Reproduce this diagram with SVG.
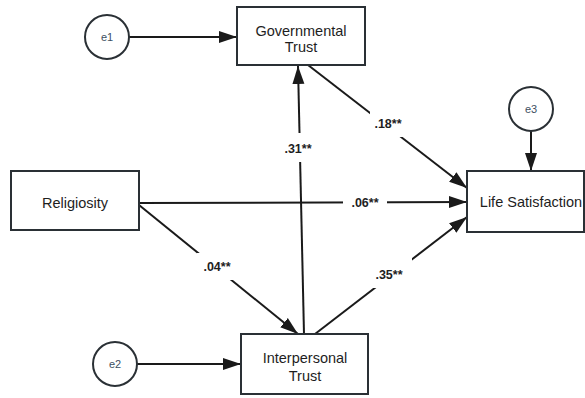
<svg xmlns="http://www.w3.org/2000/svg" width="585" height="398" viewBox="0 0 585 398">
<defs>
<marker id="arr" markerUnits="userSpaceOnUse" markerWidth="19" markerHeight="13" refX="18" refY="6" orient="auto" viewBox="0 0 19 12">
<path d="M0,0 L18,6 L0,12 Z" fill="#1a1a1a"/>
</marker>
<style>
.box{fill:#fff;stroke:#2a3035;stroke-width:2}
.err{fill:#fff;stroke:#2a3035;stroke-width:2}
.lbl{font-family:"Liberation Sans",Arial,sans-serif;font-size:14.5px;fill:#1e1e1e;text-anchor:middle}
.elbl{font-family:"Liberation Sans",Arial,sans-serif;font-size:11px;fill:#3d4f61;text-anchor:middle}
.edge{stroke:#1a1a1a;stroke-width:2;fill:none}
.coef{font-family:"Liberation Sans",Arial,sans-serif;font-size:12.5px;font-weight:bold;fill:#1e1e1e;text-anchor:middle}
.gap{fill:#fff}
</style>
</defs>
<rect width="585" height="398" fill="#fff"/>
<g id="connectors">
<line class="edge" x1="129" y1="37" x2="237" y2="37" marker-end="url(#arr)"/>
<line class="edge" x1="137" y1="364" x2="241" y2="364" marker-end="url(#arr)"/>
<line class="edge" x1="531" y1="131" x2="531" y2="171" marker-end="url(#arr)"/>
<line class="edge" x1="304" y1="334" x2="298" y2="66" marker-end="url(#arr)"/>
<line class="edge" x1="308" y1="65" x2="467" y2="188" marker-end="url(#arr)"/>
<line class="edge" x1="139" y1="203" x2="467" y2="202" marker-end="url(#arr)"/>
<line class="edge" x1="315" y1="334" x2="467" y2="217" marker-end="url(#arr)"/>
<line class="edge" x1="139" y1="205" x2="298" y2="334" marker-end="url(#arr)"/>
<g id="labels">
<rect class="gap" x="282" y="133" width="33" height="29"/>
<text class="coef" x="298" y="153">.31**</text>
<rect class="gap" x="370" y="110" width="38" height="27"/>
<text class="coef" x="388" y="128">.18**</text>
<rect class="gap" x="343" y="193" width="44" height="18"/>
<text class="coef" x="365" y="207">.06**</text>
<rect class="gap" x="197" y="253" width="40" height="27"/>
<text class="coef" x="217" y="271">.04**</text>
<rect class="gap" x="372" y="258" width="40" height="30"/>
<text class="coef" x="389" y="279">.35**</text>
</g>
</g>
<g id="e1"><circle class="err" cx="107" cy="37" r="22"/><text class="elbl" x="107" y="41">e1</text></g>
<g id="e2"><circle class="err" cx="115" cy="364" r="22"/><text class="elbl" x="115" y="368">e2</text></g>
<g id="e3"><circle class="err" cx="531" cy="109" r="22"/><text class="elbl" x="531" y="113">e3</text></g>
<g id="governmental-trust"><rect class="box" x="237" y="7" width="128" height="58"/><text class="lbl" x="301" y="36">Governmental</text><text class="lbl" x="301" y="52">Trust</text></g>
<g id="religiosity"><rect class="box" x="11" y="171" width="128" height="59"/><text class="lbl" x="75" y="208">Religiosity</text></g>
<g id="interpersonal-trust"><rect class="box" x="241" y="334" width="127" height="60"/><text class="lbl" x="305" y="363">Interpersonal</text><text class="lbl" x="305" y="381">Trust</text></g>
<g id="life-satisfaction"><rect class="box" x="467" y="171" width="117" height="61"/><text class="lbl" x="531" y="207">Life Satisfaction</text></g>
</svg>
